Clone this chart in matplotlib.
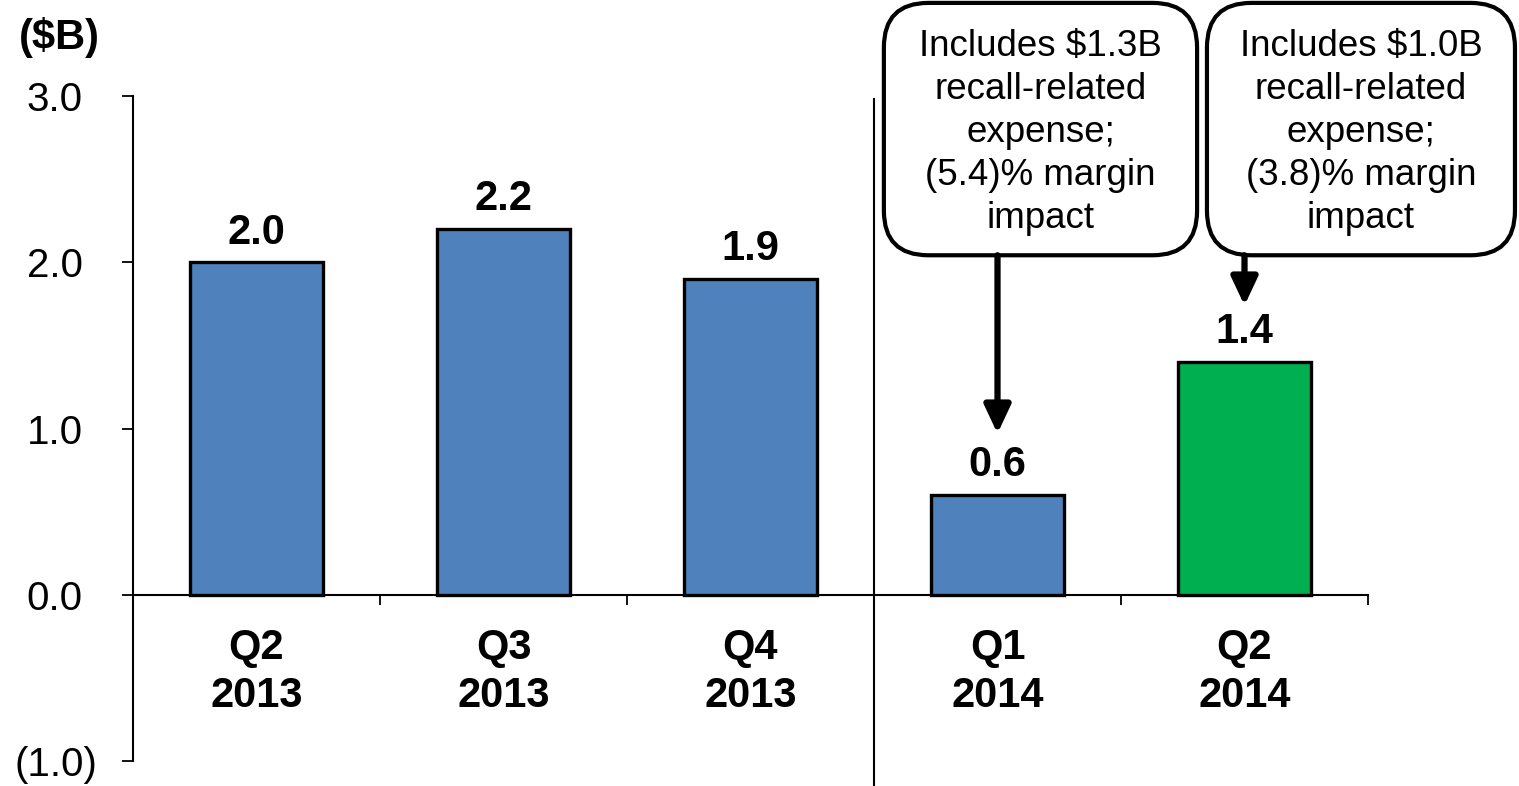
import matplotlib
matplotlib.use("Agg")
import matplotlib.pyplot as plt
from matplotlib.patches import FancyBboxPatch, ArrowStyle
from matplotlib.transforms import ScaledTranslation

plt.rcParams["font.family"] = ["Liberation Sans", "DejaVu Sans"]

# Quarterly values ($B)
quarters = ["Q2\n2013", "Q3\n2013", "Q4\n2013", "Q1\n2014", "Q2\n2014"]
values = [2.0, 2.2, 1.9, 0.6, 1.4]
value_labels = ["2.0", "2.2", "1.9", "0.6", "1.4"]
bar_colors = ["#4F81BD", "#4F81BD", "#4F81BD", "#4F81BD", "#00B050"]
y_ticks = [-1.0, 0.0, 1.0, 2.0, 3.0]
y_tick_labels = ["(1.0)", "0.0", "1.0", "2.0", "3.0"]
callouts = [
    "Includes $1.3B\nrecall-related\nexpense;\n(5.4)% margin\nimpact",
    "Includes $1.0B\nrecall-related\nexpense;\n(3.8)% margin\nimpact",
]
callout_targets = [3, 4]          # bar index each callout points to
arrow_tips = [0.97, 1.74]         # arrow tip heights (data units)

fig = plt.figure(figsize=(15.19, 7.86), dpi=100)
ax = fig.add_axes([133 / 1519, 25 / 786, (1368 - 133) / 1519, (761 - 96) / 786])

x = list(range(len(quarters)))
ax.bar(x, values, width=0.54, color=bar_colors, edgecolor="black",
       linewidth=2.4, zorder=3)

for xi, v, lab in zip(x, values, value_labels):
    ax.annotate(lab, (xi, v), xytext=(0, 7), textcoords="offset points",
                ha="center", va="bottom", fontsize=30, fontweight="bold")

ax.set_xlim(-0.5, 4.5)
ax.set_ylim(-1.0, 3.0)

# Spines
for s in ["top", "right"]:
    ax.spines[s].set_visible(False)
ax.spines["bottom"].set_position(("data", 0))
ax.spines["bottom"].set_linewidth(1.5)
ax.spines["left"].set_linewidth(1.5)
ax.spines["left"].set_bounds(-1.0, 3.0)

# Y axis ticks
ax.set_yticks(y_ticks)
ax.set_yticklabels(y_tick_labels, fontsize=29)
ax.tick_params(axis="y", direction="out", length=8, width=1.3, pad=18)
for lab in ax.get_yticklabels():
    if not lab.get_text().startswith("("):
        lab.set_transform(lab.get_transform() +
                          ScaledTranslation(-10 / 72, 0, fig.dpi_scale_trans))

# X axis: labels at centres, ticks at category boundaries
ax.set_xticks(x)
ax.set_xticklabels(quarters, fontsize=30, fontweight="bold", linespacing=1.25)
ax.tick_params(axis="x", which="major", length=0, pad=24)
ax.set_xticks([i - 0.5 for i in range(len(quarters) + 1)], minor=True)
ax.tick_params(axis="x", which="minor", direction="out", length=7, width=1.3)

# Divider between 2013 and 2014
ax.plot([2.5, 2.5], [2.98, -1.16], color="black", lw=1.5, clip_on=False, zorder=4)

# Units label
fig.text(59 / 1519, 1 - 38 / 786, "($B)", ha="center", va="center",
         fontsize=30, fontweight="bold")

# Callout boxes with arrows
box_x = [(2.54, 3.808), (3.848, 5.095)]
box_y = (2.042, 3.56)
y_px_per_unit = 166.0
x_px_per_unit = 247.0
for (x0, x1), txt, tgt, tip in zip(box_x, callouts, callout_targets, arrow_tips):
    rnd = 0.18
    patch = FancyBboxPatch((x0 + rnd, box_y[0] + rnd * x_px_per_unit / y_px_per_unit),
                           (x1 - x0) - 2 * rnd,
                           (box_y[1] - box_y[0]) - 2 * rnd * x_px_per_unit / y_px_per_unit,
                           boxstyle=f"round,pad={rnd},rounding_size={rnd}",
                           mutation_aspect=x_px_per_unit / y_px_per_unit,
                           facecolor="white", edgecolor="black", lw=3,
                           clip_on=False, zorder=5)
    ax.add_patch(patch)
    ax.text((x0 + x1) / 2, (box_y[0] + box_y[1]) / 2 - 0.02, txt, ha="center",
            va="center", fontsize=26.5, linespacing=1.3, zorder=6, clip_on=False)
    ax.annotate("", xy=(tgt, tip), xytext=(tgt, box_y[0]),
                arrowprops=dict(arrowstyle=ArrowStyle("-|>", head_length=0.85,
                                                      head_width=0.4),
                                mutation_scale=20, lw=4.5, color="black",
                                shrinkA=0, shrinkB=0),
                zorder=6, annotation_clip=False)

fig.savefig("out.png", dpi=100)
